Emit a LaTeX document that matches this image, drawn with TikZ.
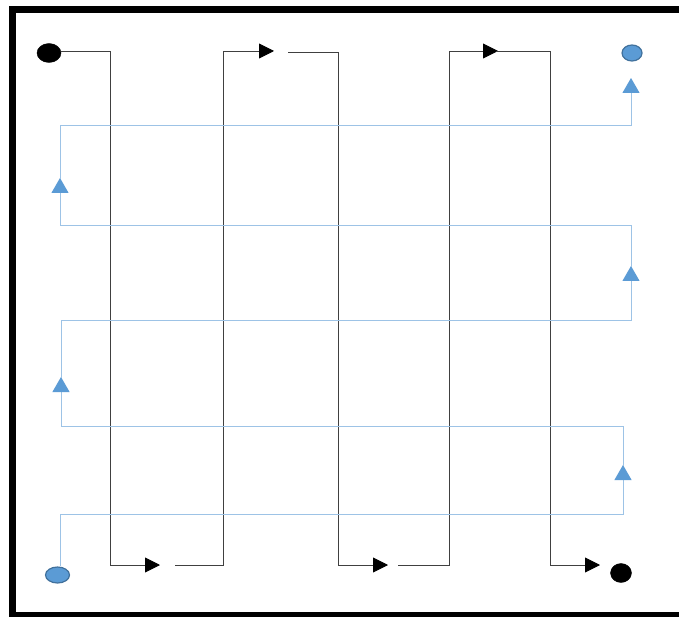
\documentclass[tikz,border=0pt]{standalone}
\usetikzlibrary{shapes.geometric,arrows.meta}
\definecolor{bline}{HTML}{9DC3E6}
\definecolor{bfill}{HTML}{5B9BD5}
\definecolor{bedge}{HTML}{41719C}
\tikzset{
  blk/.style={draw=black!75, line width=0.9pt, -{Triangle[length=15pt,width=15pt,color=black,fill=black]}},
  blu/.style={draw=bline, line width=1pt, -{Triangle[length=15pt,width=17pt,color=bfill,fill=bfill]}},
  bdot/.style={ellipse, fill=black, draw=black, inner sep=0pt},
  bluedot/.style={ellipse, fill=bfill, draw=bedge, line width=1.2pt, inner sep=0pt},
  frame/.style={draw=black, line width=7pt}
}
\begin{document}
\begin{tikzpicture}[x=1pt,y=-1pt]
\useasboundingbox (0,0) rectangle (679,617);
\clip (0,0) rectangle (679,617);
\fill[white] (0,0) rectangle (679,617);
\draw[frame] (679,10) -- (12,10) -- (12,615) -- (679,615);
% nodes
\node[bdot, minimum width=24pt, minimum height=19pt] (s1) at (49,53) {};
\node[bdot, minimum width=21pt, minimum height=19pt] (e1) at (621,573) {};
\node[bluedot, minimum width=24pt, minimum height=16pt] (s2) at (57.5,575) {};
\node[bluedot, minimum width=20pt, minimum height=16pt] (e2) at (632,53) {};
% black path coordinates
\coordinate (a1) at (110,51);
\coordinate (a2) at (110,565);
\coordinate (a3) at (160,565);
\coordinate (b0) at (175,565);
\coordinate (b1) at (223,565);
\coordinate (b2) at (223,51);
\coordinate (b3) at (274,51);
\coordinate (c0) at (288,52);
\coordinate (c1) at (338,52);
\coordinate (c2) at (338,565);
\coordinate (c3) at (388,565);
\coordinate (d0) at (398,565);
\coordinate (d1) at (449,565);
\coordinate (d2) at (449,51);
\coordinate (d3) at (498,51);
\coordinate (d4) at (496,51);
\coordinate (d5) at (550,51);
\coordinate (d6) at (550,565);
\coordinate (d7) at (600,565);
\draw[blk] (s1.east |- a1) -- (a1) -- (a2) -- (a3);
\draw[blk] (b0) -- (b1) -- (b2) -- (b3);
\draw[blk] (c0) -- (c1) -- (c2) -- (c3);
\draw[blk] (d0) -- (d1) -- (d2) -- (d3);
\draw[blk] (d4) -- (d5) -- (d6) -- (d7);
% blue path coordinates
\coordinate (p1) at (60.5,514);
\coordinate (p2) at (623,514);
\coordinate (p3) at (623,465);
\coordinate (q0) at (623,466);
\coordinate (q1) at (623,426);
\coordinate (q2) at (61,426);
\coordinate (q3) at (61,377);
\coordinate (r0) at (61,378);
\coordinate (r1) at (61,320);
\coordinate (r2) at (631,320);
\coordinate (r3) at (631,266);
\coordinate (t0) at (631,267);
\coordinate (t1) at (631,226);
\coordinate (t2) at (60,226);
\coordinate (t3) at (60,178);
\coordinate (u0) at (60,179);
\coordinate (u1) at (60,126);
\coordinate (u2) at (631,126);
\coordinate (u3) at (631,78);
\draw[blu] (s2.north -| p1) -- (p1) -- (p2) -- (p3);
\draw[blu] (q0) -- (q1) -- (q2) -- (q3);
\draw[blu] (r0) -- (r1) -- (r2) -- (r3);
\draw[blu] (t0) -- (t1) -- (t2) -- (t3);
\draw[blu] (u0) -- (u1) -- (u2) -- (u3);
\end{tikzpicture}
\end{document}
